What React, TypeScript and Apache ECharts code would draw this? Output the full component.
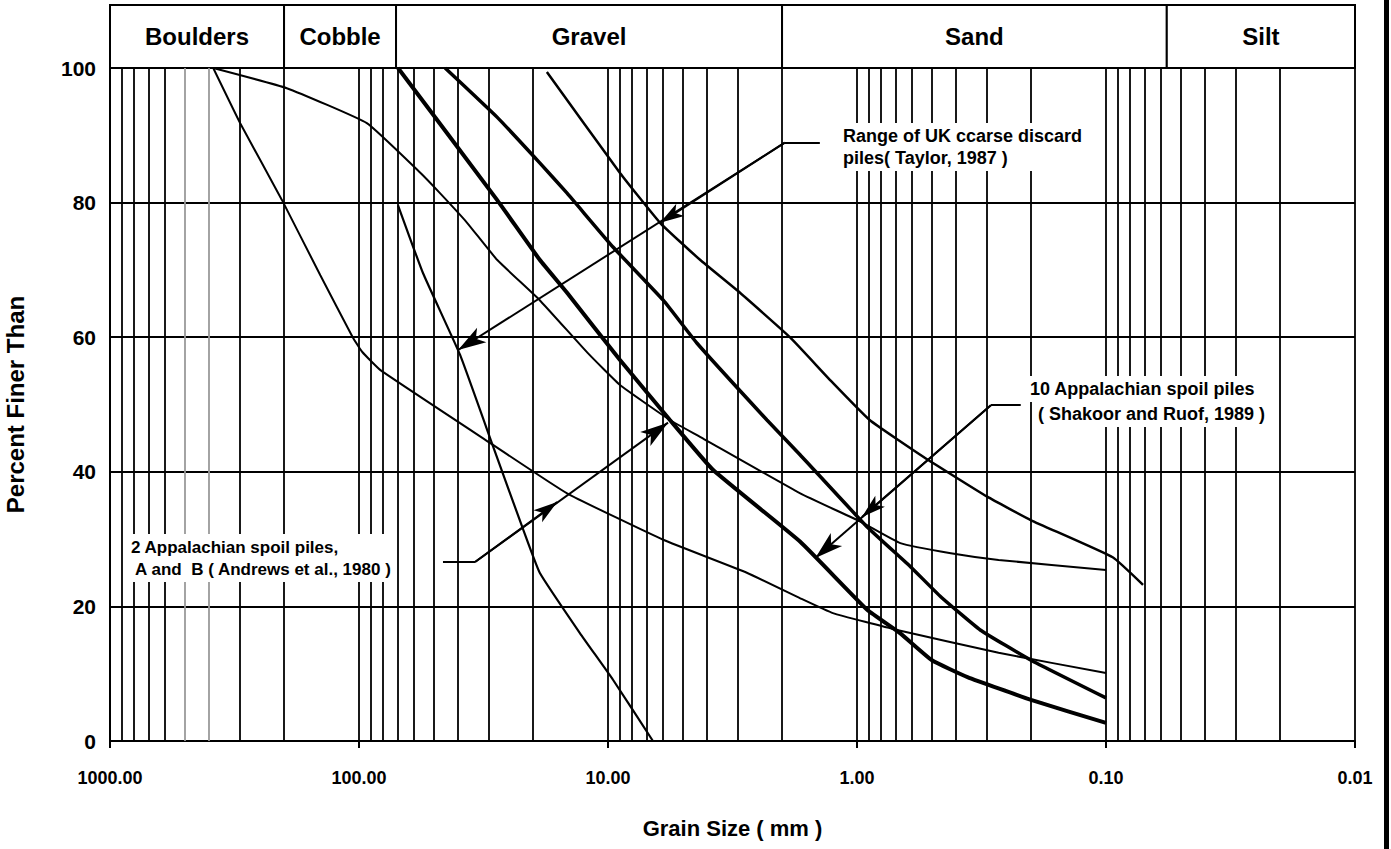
import React, { useEffect, useRef } from "react";
import * as echarts from "echarts";

// ---- axis / grid values ----
const xDecadeLines = [100, 10, 1, 0.1, 0.01];
const xMinorLines = [
  900, 800, 700, 600, 300, 200,
  90, 80, 70, 60, 50, 40, 30, 20,
  9, 8, 7, 6, 5, 4, 3, 2,
  0.9, 0.8, 0.7, 0.6, 0.5, 0.4, 0.3, 0.2,
  0.09, 0.08, 0.07, 0.06, 0.05, 0.04, 0.03, 0.02,
];
const xFadedLines = [500, 400];

// ---- soil class bands (grain size limits in mm) ----
const zoneNames = ["Boulders", "Cobble", "Gravel", "Sand", "Silt"];
const zoneLimits = [1000, 200, 71, 2, 0.057, 0.01];

// ---- gradation curves: [grain size mm, percent finer] ----
const andrewsA: [number, number][] = [
  [385, 100], [300, 91.8], [204, 80.4], [143, 69.2], [106, 60], [97, 57.8], [82, 55.1],
  [29.8, 44.3], [14.6, 36.8], [6.0, 29.9], [2.77, 25.0], [1.69, 21.2], [1.25, 19.0],
  [0.69, 16.5], [0.27, 13.1], [0.1, 10.1],
];
const andrewsB: [number, number][] = [
  [385, 100], [195, 97], [93, 91.8], [57, 84.5], [47.3, 81.4], [36.8, 77], [27.9, 71.5],
  [18.8, 65.5], [12.1, 57.7], [8.95, 52.9], [5.64, 47.7], [4.27, 45.2], [1.69, 36.8],
  [0.97, 32.6], [0.67, 29.4], [0.42, 27.9], [0.27, 26.9], [0.1, 25.4],
];
const shakoorLower: [number, number][] = [
  [69.7, 100], [27.9, 80.4], [18.8, 71.5], [14.6, 66.6], [8.95, 56.6], [5.64, 47.7],
  [3.79, 40.3], [1.69, 29.6], [0.91, 19.5], [0.67, 16.0], [0.5, 12.0],
  [0.36, 9.5], [0.2, 6.1], [0.1, 2.7],
];
const shakoorUpper: [number, number][] = [
  [45.1, 100], [27.9, 92.7], [18.8, 85.9], [14.6, 81.4], [9.55, 73.4], [6.0, 65.5],
  [4.39, 59.1], [2.3, 47.7], [1.69, 42.5], [0.91, 31.8], [0.61, 25.9], [0.46, 21.4],
  [0.32, 16.5], [0.2, 12.0], [0.1, 6.4],
];
const taylorFine: [number, number][] = [
  [17.6, 99.4], [8.95, 84.4], [6.18, 77], [4.27, 71.5], [2.95, 66.6], [1.86, 60],
  [1.28, 53.6], [0.89, 47.7], [0.54, 42.2], [0.3, 36.3], [0.2, 32.8], [0.094, 27.3],
  [0.071, 23.2],
];
const taylorCoarse: [number, number][] = [
  [69.7, 79.6], [55.3, 69.5], [39.3, 57.4], [28.9, 43.7], [21.9, 31.4], [18.8, 25],
  [12.95, 16], [9.55, 9.1], [6.6, 0],
];

// ---- annotation leader lines: [start, corner, tip, midTip] ----
const ukLeader: [number, number][] = [[1.41, 88.9], [1.95, 88.9], [40, 58.1], [6.18, 77]];
const andrewsLeader: [number, number][] = [[46, 26.6], [34.2, 26.6], [5.74, 47.3], [16, 35.5]];
const shakoorLeader: [number, number][] = [[0.22, 49.9], [0.29, 49.9], [1.47, 27.2], [0.955, 33.3]];

const FONT = '"Liberation Sans", Arial, Helvetica, sans-serif';

function leaderLines(p: [number, number][]) {
  return [
    [{ coord: p[0] }, { coord: p[1] }],
    [{ coord: p[1] }, { coord: p[2], symbol: "arrow", symbolSize: [13, 28] }],
    [{ coord: p[1] }, { coord: p[3], symbol: "arrow", symbolSize: [11, 24] }],
  ];
}

function curve(name: string, data: [number, number][], width: number) {
  return {
    name,
    type: "line",
    data,
    symbol: "none",
    showSymbol: false,
    smooth: 0.12,
    z: 3,
    silent: true,
    lineStyle: { color: "#000", width },
    emphasis: { disabled: true },
  };
}

function note(text: string, left: number, top: number, size: number) {
  return {
    type: "text",
    left,
    top,
    z: 100,
    style: {
      text,
      font: `bold ${size}px ${FONT}`,
      fill: "#000",
      lineHeight: 22,
      backgroundColor: "#fff",
      padding: [2, 3],
    },
  };
}

export default function App() {
  const ref = useRef<HTMLDivElement>(null);
  useEffect(() => {
    if (!ref.current) return;
    const chart = echarts.init(ref.current, undefined, { renderer: "svg" });
    const option: any = {
      animation: false,
      backgroundColor: "#fff",
      grid: [
        { left: 110, right: 36, top: 68, bottom: 108, containLabel: false, outerBoundsMode: "none" },
        { left: 110, right: 36, top: 5, height: 63, containLabel: false, outerBoundsMode: "none" },
      ],
      xAxis: [
        {
          type: "log",
          logBase: 10,
          min: 0.01,
          max: 1000,
          inverse: true,
          gridIndex: 0,
          name: "Grain Size ( mm )",
          nameLocation: "middle",
          nameGap: 76,
          nameTextStyle: { color: "#000", fontSize: 22, fontWeight: "bold", fontFamily: FONT },
          axisLine: { show: true, lineStyle: { color: "#000", width: 2 } },
          axisTick: { show: true, length: 7, lineStyle: { color: "#000", width: 2 } },
          axisLabel: {
            color: "#000",
            fontSize: 18,
            fontWeight: "bold",
            fontFamily: FONT,
            margin: 28,
            formatter: (v: number) => v.toFixed(2),
          },
          splitLine: { show: false },
        },
        {
          type: "log",
          logBase: 10,
          min: 0.01,
          max: 1000,
          inverse: true,
          gridIndex: 1,
          show: false,
        },
      ],
      yAxis: [
        {
          type: "value",
          min: 0,
          max: 100,
          interval: 20,
          gridIndex: 0,
          name: "Percent Finer Than",
          nameLocation: "middle",
          nameGap: 83,
          nameTextStyle: { color: "#000", fontSize: 24, fontWeight: "bold", fontFamily: FONT },
          axisLine: { show: true, lineStyle: { color: "#000", width: 2 } },
          axisTick: { show: false },
          axisLabel: { color: "#000", fontSize: 21, fontWeight: "bold", fontFamily: FONT, margin: 14 },
          splitLine: { show: true, lineStyle: { color: "#000", width: 2 } },
        },
        { type: "value", min: 0, max: 1, gridIndex: 1, show: false },
      ],
      series: [
        {
          name: "grain size grid",
          type: "line",
          data: [],
          silent: true,
          markLine: {
            silent: true,
            z: 1,
            symbol: ["none", "none"],
            label: { show: false },
            emphasis: { disabled: true },
            lineStyle: { color: "#000", width: 1.8, type: "solid" },
            data: [
              ...xDecadeLines.map((v) => ({ xAxis: v })),
              ...xMinorLines.map((v) => ({ xAxis: v })),
              ...xFadedLines.map((v) => ({ xAxis: v, lineStyle: { color: "#9a9a9a", width: 1.8, type: "solid" } })),
            ],
          },
        },
        {
          name: "soil classes",
          type: "line",
          xAxisIndex: 1,
          yAxisIndex: 1,
          data: [],
          silent: true,
          markArea: {
            silent: true,
            itemStyle: { color: "#fff", borderColor: "#000", borderWidth: 2 },
            label: {
              show: true,
              position: "inside",
              color: "#000",
              fontSize: 24,
              fontWeight: "bold",
              fontFamily: FONT,
            },
            emphasis: { disabled: true },
            data: zoneNames.map((n, i) => [
              { name: n, xAxis: zoneLimits[i] },
              { xAxis: zoneLimits[i + 1] },
            ]),
          },
        },
        curve("Appalachian pile A (Andrews et al., 1980)", andrewsA, 2),
        curve("Appalachian pile B (Andrews et al., 1980)", andrewsB, 2),
        curve("10 Appalachian piles, lower (Shakoor and Ruof, 1989)", shakoorLower, 4),
        curve("10 Appalachian piles, upper (Shakoor and Ruof, 1989)", shakoorUpper, 3.5),
        curve("UK coarse discard, fine limit (Taylor, 1987)", taylorFine, 2.5),
        curve("UK coarse discard, coarse limit (Taylor, 1987)", taylorCoarse, 2.2),
        {
          name: "leaders",
          type: "line",
          data: [],
          silent: true,
          markLine: {
            silent: true,
            z: 4,
            symbol: ["none", "none"],
            label: { show: false },
            emphasis: { disabled: true },
            lineStyle: { color: "#000", width: 2, type: "solid" },
            data: [...leaderLines(ukLeader), ...leaderLines(andrewsLeader), ...leaderLines(shakoorLeader)],
          },
        },
      ],
      graphic: [
        note("Range of UK ccarse discard\npiles( Taylor, 1987 )", 840, 123, 18),
        note("10 Appalachian spoil piles", 1027, 376, 18),
        note("( Shakoor and Ruof, 1989 )", 1035, 401, 18),
        note("2 Appalachian spoil piles,\n A and  B ( Andrews et al., 1980 )", 128, 534, 17),
        {
          type: "rect",
          z: 100,
          shape: { x: 1384, y: 0, width: 5, height: 849 },
          style: { fill: "#000" },
        },
      ],
    };
    chart.setOption(option);
    return () => chart.dispose();
  }, []);
  return (
    <div
      ref={ref}
      style={{ position: "fixed", left: 0, top: 0, width: 1391, height: 849, background: "#fff" }}
    />
  );
}
